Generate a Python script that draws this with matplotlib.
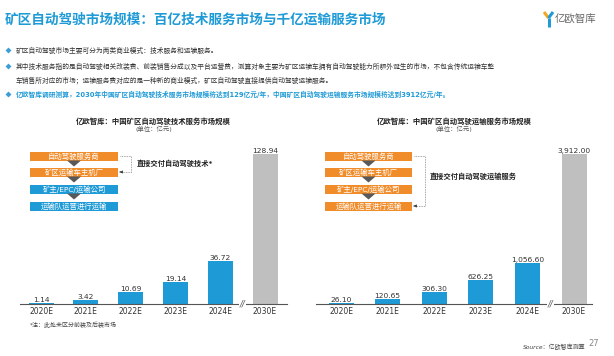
import matplotlib
matplotlib.use("Agg")
import matplotlib.pyplot as plt
from matplotlib.patches import Rectangle, Polygon

plt.rcParams["font.family"] = ["DejaVu Sans", "Noto Sans CJK SC"]

# ---- data ----
years = ["2020E", "2021E", "2022E", "2023E", "2024E", "2030E"]
tech_values = [1.14, 3.42, 10.69, 19.14, 36.72, 128.94]
trans_values = [26.10, 120.65, 306.30, 626.25, 1056.60, 3912.00]

title = "矿区自动驾驶市场规模：百亿技术服务市场与千亿运输服务市场"
bullets = [
    "矿区自动驾驶市场主要可分为两类商业模式：技术服务和运输服务。",
    "其中技术服务指的是自动驾驶相关改装费、前装销售分成以及平台运营费，测算对象主要为矿区运输车拥有自动驾驶能力所额外诞生的市场，不包含传统运输车整",
    "车销售所对应的市场；运输服务费对应的是一种新的商业模式，矿区自动驾驶直接提供自动驾驶运输服务。",
    "亿欧智库调研测算，2030年中国矿区自动驾驶技术服务市场规模将达到129亿元/年，中国矿区自动驾驶运输服务市场规模将达到3912亿元/年。",
]
flow_steps = ["自动驾驶服务商", "矿区运输车主机厂", "矿主/EPC/运输公司", "运输队运营进行运输"]

BLUE = "#1E9AD6"
ORANGE = "#F08C2A"
GRAY = "#BFBFBF"
DARK = "#333333"

W, H = 614, 356
fig = plt.figure(figsize=(W / 100, H / 100), dpi=100)


def px_axes(x0, y0, x1, y1):
    # axes rect from pixel box (top-left origin)
    return fig.add_axes([x0 / W, 1 - y1 / H, (x1 - x0) / W, (y1 - y0) / H])


def bar_chart(x0, x1, centers, values, fmt, ctitle):
    ytop, ybase = 140, 304
    ax = px_axes(x0, ytop, x1, ybase)
    sp = (centers[-1] - centers[0]) / 5
    pos = list(range(len(values)))
    colors = [BLUE] * 5 + [GRAY]
    ax.bar(pos, values, width=25 / sp, color=colors, zorder=2)
    ax.set_xlim(-(centers[0] - x0) / sp, 5 + (x1 - centers[-1]) / sp)
    ax.set_ylim(0, values[-1] * 164 / 150)
    for p, v in zip(pos, values):
        ax.text(p, v, fmt(v), ha="center", va="bottom", fontsize=5.4, color=DARK)
    ax.set_xticks(pos)
    ax.set_xticklabels(years, fontsize=5.5, color=DARK)
    ax.tick_params(axis="x", length=0, pad=2)
    ax.set_yticks([])
    for s in ["top", "right", "left"]:
        ax.spines[s].set_visible(False)
    ax.spines["bottom"].set_color("#555555")
    ax.spines["bottom"].set_linewidth(0.8)
    ax.patch.set_alpha(0)
    ax.text(4.5, 0, "//", ha="center", va="center", fontsize=6, color="#555555",
            style="italic", bbox=dict(facecolor="white", edgecolor="none", pad=0.3))
    cx = (x0 + x1) / 2
    fig.text(cx / W, 1 - 121 / H, ctitle, ha="center", va="center", fontsize=5.3,
             fontweight="bold", color="#222222")
    fig.text(cx / W, 1 - 129 / H, "(单位：亿元)", ha="center", va="center",
             fontsize=4.6, color="#555555")
    return ax


bar_chart(20, 287, [41, 86, 131, 176, 220, 265], tech_values,
          lambda v: f"{v:.2f}", "亿欧智库：中国矿区自动驾驶技术服务市场规模")
bar_chart(316, 592, [341, 386, 433, 480, 527, 574], trans_values,
          lambda v: f"{v:,.2f}", "亿欧智库：中国矿区自动驾驶运输服务市场规模")

# overlay in pixel coordinates for text and the flow diagrams
ov = fig.add_axes([0, 0, 1, 1])
ov.set_xlim(0, W)
ov.set_ylim(H, 0)
ov.axis("off")
ov.patch.set_alpha(0)

ov.text(5, 19.5, title, fontsize=9.85, fontweight="bold", color="#1E9AD6", va="center")

# logo
ov.plot([544, 548.5], [12, 18], color="#F5A623", lw=2.2, solid_capstyle="butt")
ov.plot([553, 548.5], [12, 18], color="#1E9AD6", lw=2.2, solid_capstyle="butt")
ov.plot([548.5, 548.5], [18, 27], color="#1E9AD6", lw=2.2, solid_capstyle="butt")
ov.text(555, 20, "亿欧智库", fontsize=7.5, color="#666666", va="center")

bullet_y = [50, 66, 80, 94]
for i, (txt, y) in enumerate(zip(bullets, bullet_y)):
    if i != 2:
        ov.plot(8, y, marker="D", ms=3, color="#3A9FD6", mec="none")
    hl = i == 3
    ov.text(15.5, y, txt, fontsize=4.85, va="center",
            color=BLUE if hl else "#333333", fontweight="bold" if hl else "normal")


def flow(x0, x1, label, lx, ly, target):
    ys = [156, 172, 189, 206]
    cols = [ORANGE, ORANGE, BLUE, BLUE] if target == 1 else [ORANGE] * 4
    for j, (y, c, s) in enumerate(zip(ys, cols, flow_steps)):
        ov.add_patch(Rectangle((x0, y - 4.5), x1 - x0, 9, color=c, lw=0))
        ov.text((x0 + x1) / 2, y, s, fontsize=5.3, color="white", ha="center", va="center")
        if j < 3:
            cx = (x0 + x1) / 2
            ov.add_patch(Polygon([(cx - 7, y + 4.5), (cx + 7, y + 4.5), (cx, y + 10.5)],
                                 color="#595959", lw=0))
    xr = x1 + 13
    yt = ys[target]
    ov.plot([x1 + 2, xr, xr, x1 + 4], [ys[0], ys[0], yt, yt], color="#888888",
            lw=0.6, ls=(0, (1, 1)))
    ov.annotate("", xy=(x1 + 1.5, yt), xytext=(x1 + 5, yt),
                arrowprops=dict(arrowstyle="-|>", color="#333333", lw=0.5,
                                mutation_scale=4))
    ov.text(lx, ly, label, fontsize=5.2, fontweight="bold", color="#222222", va="center")


flow(30, 118, "直接交付自动驾驶技术*", 137, 163, 1)
flow(325, 412, "直接交付自动驾驶运输服务", 430, 176, 3)

ov.text(30, 325, "*注：此处未区分前装及后装市场", fontsize=4.3, color="#444444", va="center")
ov.text(523, 347, "Source：亿欧智库测算", fontsize=4.3, color="#444444", va="center",
        style="italic")
ov.text(588, 343, "27", fontsize=6, color="#888888", va="center")

fig.savefig("out.png", dpi=100)
